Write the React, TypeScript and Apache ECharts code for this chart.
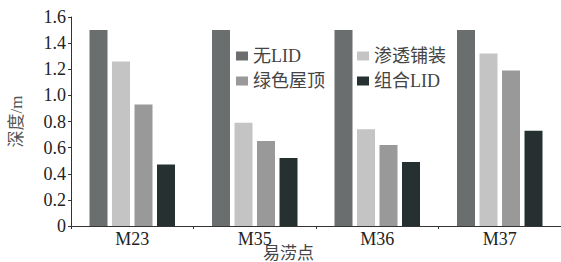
import React, { useEffect, useRef } from "react";
import * as echarts from "echarts";

const categories = ["M23", "M35", "M36", "M37"];
const noLID = [1.5, 1.5, 1.5, 1.5];
const permeable = [1.26, 0.79, 0.74, 1.32];
const greenRoof = [0.93, 0.65, 0.62, 1.19];
const combined = [0.47, 0.52, 0.49, 0.73];
const yTicks = [0, 0.2, 0.4, 0.6, 0.8, 1.0, 1.2, 1.4, 1.6];

const serif = "Liberation Serif, Noto Sans CJK SC, serif";
const cjk = "Liberation Serif, Noto Sans CJK SC, sans-serif";

export default function App() {
  const ref = useRef<HTMLDivElement>(null);
  useEffect(() => {
    const chart = echarts.init(ref.current!, undefined, { renderer: "svg" });
    const legendText = { fontSize: 18, color: "#444", fontFamily: cjk };
    chart.setOption({
      animation: false,
      backgroundColor: "#fff",
      grid: { left: 61, right: 0, top: 17, bottom: 36 },
      legend: [
        {
          data: ["无LID", "绿色屋顶"],
          orient: "vertical",
          left: 236,
          top: 47,
          padding: 0,
          itemWidth: 12,
          itemHeight: 9,
          itemGap: 7,
          textStyle: legendText,
          icon: "rect",
        },
        {
          data: ["渗透铺装", "组合LID"],
          orient: "vertical",
          left: 357,
          top: 47,
          padding: 0,
          itemWidth: 12,
          itemHeight: 9,
          itemGap: 7,
          textStyle: legendText,
          icon: "rect",
        },
      ],
      xAxis: {
        type: "category",
        data: categories,
        axisLine: { lineStyle: { color: "#333", width: 1 } },
        axisTick: { show: true, inside: false, length: 3, lineStyle: { color: "#333" } },
        axisLabel: { fontSize: 18, color: "#222", fontFamily: serif, margin: 4 },
      },
      yAxis: {
        type: "value",
        min: 0,
        max: 1.6,
        interval: 0.2,
        name: "深度/m",
        nameLocation: "middle",
        nameGap: 46,
        nameTextStyle: { fontSize: 17, color: "#555", fontFamily: cjk },
        axisLine: { show: true, lineStyle: { color: "#333", width: 1 } },
        axisTick: { show: true, length: 3, lineStyle: { color: "#333" } },
        splitLine: { show: false },
        axisLabel: {
          fontSize: 18,
          color: "#222",
          fontFamily: serif,
          margin: 5,
          formatter: (v: number) => {
            const t = yTicks.find((x) => Math.abs(x - v) < 1e-6);
            return t === 0 ? "0" : (t ?? v).toFixed(1);
          },
        },
      },
      series: [
        { name: "无LID", type: "bar", data: noLID, barWidth: 18, barGap: "25%", itemStyle: { color: "#6b6e6e" } },
        { name: "渗透铺装", type: "bar", data: permeable, barWidth: 18, barGap: "25%", itemStyle: { color: "#c4c4c4" } },
        { name: "绿色屋顶", type: "bar", data: greenRoof, barWidth: 18, barGap: "25%", itemStyle: { color: "#999999" } },
        { name: "组合LID", type: "bar", data: combined, barWidth: 18, barGap: "25%", itemStyle: { color: "#263030" } },
      ],
      graphic: [
        {
          type: "text",
          left: 263,
          top: 245,
          style: { text: "易涝点", fontSize: 17, fill: "#444", fontFamily: cjk },
        },
      ],
    });
    return () => chart.dispose();
  }, []);
  return <div ref={ref} style={{ width: 561, height: 262, position: "fixed", left: 0, top: 0 }} />;
}
